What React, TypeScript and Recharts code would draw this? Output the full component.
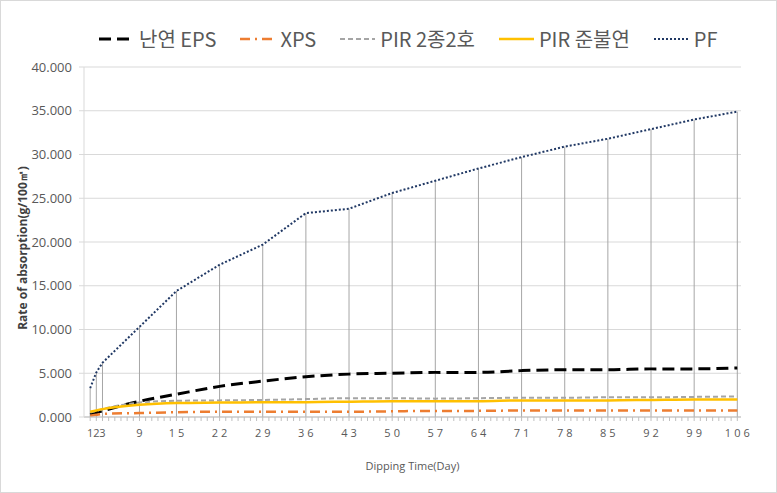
import React from 'react';
import { LineChart, Line, XAxis, YAxis, CartesianGrid, ReferenceLine } from 'recharts';

const days = [1, 2, 3, 9, 15, 22, 29, 36, 43, 50, 57, 64, 71, 78, 85, 92, 99, 106];
const eps = [0.3, 0.5, 0.7, 1.8, 2.6, 3.5, 4.1, 4.6, 4.9, 5.0, 5.1, 5.1, 5.3, 5.4, 5.4, 5.5, 5.5, 5.6];
const xps = [0.15, 0.25, 0.35, 0.45, 0.55, 0.6, 0.6, 0.6, 0.6, 0.65, 0.7, 0.7, 0.75, 0.75, 0.75, 0.75, 0.75, 0.75];
const pir2 = [0.5, 0.7, 0.9, 1.65, 1.85, 1.9, 1.95, 2.05, 2.15, 2.15, 2.1, 2.15, 2.2, 2.2, 2.25, 2.25, 2.3, 2.35];
const pirN = [0.6, 0.75, 0.9, 1.4, 1.6, 1.65, 1.7, 1.7, 1.75, 1.8, 1.8, 1.8, 1.9, 1.9, 1.9, 1.95, 2.0, 2.0];
const pf = [3.3, 5.1, 6.2, 10.3, 14.4, 17.4, 19.7, 23.3, 23.8, 25.6, 27.0, 28.4, 29.7, 30.9, 31.8, 32.9, 34.0, 34.9];
const yTicks = [0, 5, 10, 15, 20, 25, 30, 35, 40];

const data = days.map((d, i) => ({ day: d, eps: eps[i], xps: xps[i], pir2: pir2[i], pirN: pirN[i], pf: pf[i] }));

// every day gets a small tick, only sampled days are labelled
const allDays = Array.from({ length: 106 }, (_, i) => i + 1);

const series = [
  { key: 'eps', name: '난연 EPS', color: '#000000', dash: '12 6', width: 3, type: 'monotone' },
  { key: 'xps', name: 'XPS', color: '#ED7D31', dash: '10 5 2 5', width: 2.5, type: 'monotone' },
  { key: 'pir2', name: 'PIR 2종2호', color: '#A5A5A5', dash: '5 3', width: 2, type: 'monotone' },
  { key: 'pirN', name: 'PIR 준불연', color: '#FFC000', dash: undefined, width: 2.5, type: 'monotone' },
  { key: 'pf', name: 'PF', color: '#203864', dash: '2 2', width: 2, type: 'linear' },
] as const;

const LegendBox = () => (
  <div style={{ position: 'absolute', top: 24, left: 98, display: 'flex', alignItems: 'center', fontFamily: '"Noto Sans CJK KR", sans-serif', fontSize: 20, color: '#595959', lineHeight: '28px' }}>
    {series.map((s) => (
      <div key={s.key} style={{ display: 'flex', alignItems: 'center', marginRight: 24 }}>
        <svg width={35} height={10} style={{ marginRight: 5 }}>
          <line x1={0} y1={5} x2={35} y2={5} stroke={s.color} strokeWidth={s.width} strokeDasharray={s.dash} />
        </svg>
        <span>{s.name}</span>
      </div>
    ))}
  </div>
);

const DayTick = (props: any) => {
  const { x, y, payload } = props;
  const v = payload.value as number;
  const labelled = days.includes(v);
  const wide = v >= 9;
  return (
    <g>
      <line x1={x} y1={y} x2={x} y2={y + 4} stroke="#bfbfbf" strokeWidth={1} />
      {labelled && (
        <text
          x={wide ? x + 1.5 : x}
          y={y + 20}
          textAnchor="middle"
          fontSize={11}
          fill="#595959"
          fontFamily="Open Sans, sans-serif"
          letterSpacing={wide ? 3 : 0}
        >
          {v}
        </text>
      )}
    </g>
  );
};

export default function App() {
  return (
    <div style={{ position: 'absolute', left: 0, top: 0, width: 777, height: 493, boxSizing: 'border-box', border: '1px solid #d9d9d9', background: '#fff' }}>
      <LegendBox />
      <LineChart width={775} height={491} data={data} margin={{ top: 66, right: 35, bottom: 20, left: 0 }}>
        <CartesianGrid vertical={false} stroke="#d9d9d9" />
        <XAxis
          dataKey="day"
          type="number"
          domain={[0, 106.6]}
          ticks={allDays}
          interval={0}
          tick={<DayTick />}
          tickLine={false}
          tickSize={0}
          tickMargin={0}
          stroke="#bfbfbf"
          height={55}
          label={{ value: 'Dipping Time(Day)', position: 'insideBottom', offset: 2, fontSize: 11, fill: '#595959', fontFamily: 'Open Sans, sans-serif' }}
        />
        <YAxis
          type="number"
          domain={[0, 40]}
          ticks={yTicks}
          tickFormatter={(v: number) => v.toFixed(3)}
          tick={{ fontSize: 13, fill: '#595959', fontFamily: 'Open Sans, sans-serif' }}
          tickSize={5}
          tickMargin={7}
          stroke="#d9d9d9"
          width={83}
          label={{ value: 'Rate of absorption(g/100㎡)', angle: -90, position: 'insideLeft', offset: 22, dy: 6, fontSize: 12, fontWeight: 'bold', fill: '#404040', fontFamily: 'Open Sans, sans-serif', style: { textAnchor: 'middle' } }}
        />
        {data.map((d) => (
          <ReferenceLine key={d.day} segment={[{ x: d.day, y: 0 }, { x: d.day, y: d.pf }]} stroke="#a6a6a6" strokeWidth={1} />
        ))}
        {series.map((s) => (
          <Line
            key={s.key}
            dataKey={s.key}
            name={s.name}
            type={s.type}
            stroke={s.color}
            strokeWidth={s.width}
            strokeDasharray={s.dash}
            dot={false}
            isAnimationActive={false}
          />
        ))}
      </LineChart>
    </div>
  );
}
